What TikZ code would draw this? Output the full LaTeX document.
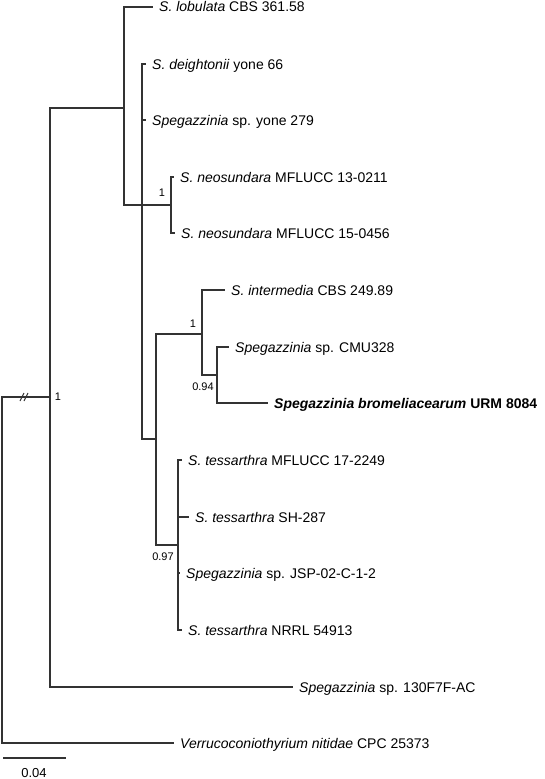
\documentclass[tikz,border=0pt]{standalone}
\usepackage{fontspec}
\setmainfont{Liberation Sans}

\begin{document}
\begin{tikzpicture}[x=1pt,y=-1pt]

\tikzstyle{branch} = [draw, line width=1.2pt, black!80]
\tikzstyle{taxon} = [anchor=west, inner xsep=6pt, inner ysep=0pt, text height=10pt, text depth=0pt, font=\fontsize{14}{16}\selectfont]
\tikzstyle{support} = [inner sep=0pt, font=\fontsize{11}{13}\selectfont]
\tikzstyle{scalelabel} = [inner sep=0pt, font=\fontsize{13}{15}\selectfont]

\useasboundingbox (0,0) rectangle (544,779);

% internal nodes
\coordinate (root) at (2,570);
\coordinate (ingroup) at (50,397);
\coordinate (lob) at (124,108);
\coordinate (core) at (142,205);
\coordinate (neo) at (171,205);
\coordinate (inter) at (156,439);
\coordinate (brom) at (202,334);
\coordinate (cmu) at (217,375);
\coordinate (tess) at (178,545);

% tips
\node [taxon] at (153,7) (t_lob) {\textit{S. lobulata} CBS 361.58};
\node [taxon] at (146,64) (t_dei) {\textit{S. deightonii} yone 66};
\node [taxon] at (146,120) (t_yone) {\textit{Spegazzinia} sp. yone 279};
\node [taxon] at (174,177) (t_neo1) {\textit{S. neosundara} MFLUCC 13-0211};
\node [taxon] at (175,233) (t_neo2) {\textit{S. neosundara} MFLUCC 15-0456};
\node [taxon] at (225,290) (t_int) {\textit{S. intermedia} CBS 249.89};
\node [taxon] at (229,347) (t_cmu) {\textit{Spegazzinia} sp. CMU328};
\node [taxon] at (268,403) (t_brom) {\textbf{\textit{Spegazzinia bromeliacearum} URM 8084}};
\node [taxon] at (182,460) (t_tes1) {\textit{S. tessarthra} MFLUCC 17-2249};
\node [taxon] at (189,517) (t_tes2) {\textit{S. tessarthra} SH-287};
\node [taxon] at (180,573) (t_jsp) {\textit{Spegazzinia} sp. JSP-02-C-1-2};
\node [taxon] at (182,630) (t_tes3) {\textit{S. tessarthra} NRRL 54913};
\node [taxon] at (293,687) (t_130) {\textit{Spegazzinia} sp. 130F7F-AC};
\node [taxon] at (174,743) (t_out) {\textit{Verrucoconiothyrium nitidae} CPC 25373};

% support values
\node [support] at (162,193) (s_neo) {1};
\node [support] at (193,324) (s_brom) {1};
\node [support] at (203,387) (s_cmu) {0.94};
\node [support] at (163,557) (s_tess) {0.97};
\node [support] at (58,397) (s_in) {1};

% branches
\path [branch] (root) |- (ingroup);
\path [branch] (root) |- (t_out.west);
\path [branch] (ingroup) |- (lob);
\path [branch] (ingroup) |- (t_130.west);
\path [branch] (lob) |- (t_lob.west);
\path [branch] (lob) |- (core);
\path [branch] (core) |- (t_dei.west);
\path [branch] (core) |- (t_yone.west);
\path [branch] (core) -- (neo);
\path [branch] (core) |- (inter);
\path [branch] (neo) |- (t_neo1.west);
\path [branch] (neo) |- (t_neo2.west);
\path [branch] (inter) |- (brom);
\path [branch] (inter) |- (tess);
\path [branch] (brom) |- (t_int.west);
\path [branch] (brom) |- (cmu);
\path [branch] (cmu) |- (t_cmu.west);
\path [branch] (cmu) |- (t_brom.west);
\path [branch] (tess) |- (t_tes1.west);
\path [branch] (tess) |- (t_tes2.west);
\path [branch] (tess) |- (t_jsp.west);
\path [branch] (tess) |- (t_tes3.west);

% break on the outgroup branch
\draw [line width=1pt, black!80] (20,401) -- (24,393);
\draw [line width=1pt, black!80] (24,401) -- (28,393);

% scale bar
\coordinate (sb_l) at (3,758);
\coordinate (sb_r) at (66,758);
\path [branch] (sb_l) -- (sb_r);
\node [scalelabel] at (34,773) (sb_txt) {0.04};

\end{tikzpicture}
\end{document}
